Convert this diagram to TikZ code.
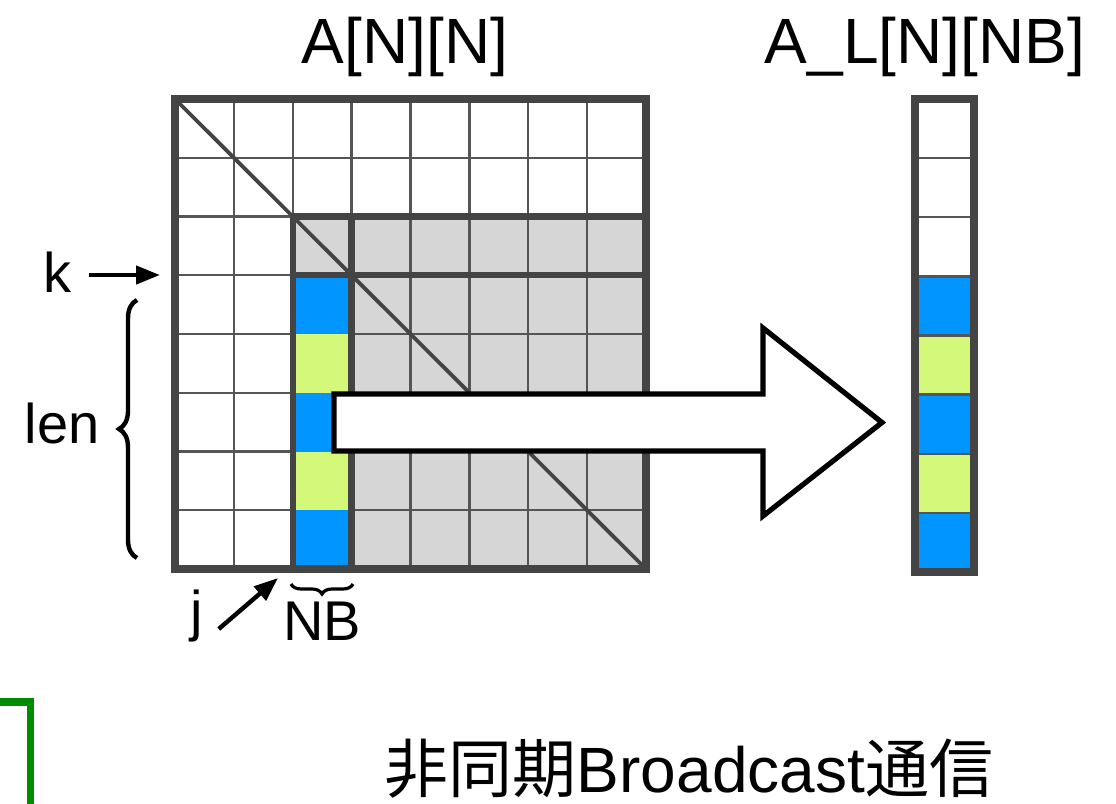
\documentclass[tikz,border=0pt]{standalone}
\usepackage{fontspec}
\setmainfont{Liberation Sans}
\newfontfamily\cjk{Noto Sans CJK JP}
\usetikzlibrary{decorations.pathreplacing,arrows.meta}
\definecolor{gridc}{HTML}{444444}
\definecolor{thinc}{HTML}{555555}
\definecolor{cblue}{HTML}{0095FF}
\definecolor{cgreen}{HTML}{D4F97A}
\definecolor{cgray}{HTML}{D6D6D6}
\definecolor{cdgreen}{HTML}{008C00}
\begin{document}
\begin{tikzpicture}[x=0.5pt,y=-0.5pt,
  thinline/.style={draw=thinc, line width=1.2pt},
  thickline/.style={draw=gridc, line width=3.2pt},
  borderline/.style={draw=gridc, line width=3.6pt},
  lbl/.style={inner sep=0pt, anchor=base, font=\fontsize{28}{32}\selectfont},
  ttl/.style={inner sep=0pt, anchor=base, font=\fontsize{32}{38}\selectfont},
  arr/.style={-{Triangle[length=12pt,width=9pt]}, line width=2.2pt, black},
  bigarrow/.style={draw=black, fill=white, line width=2.6pt, line join=miter},
  bracestyle/.style={decorate, line width=2.2pt, black},
]
\useasboundingbox (0,0) rectangle (1116,804);
\def\gx{175}\def\gy{99}\def\cw{58.875}\def\ch{58.75}
% gray sub-matrix
\fill[cgray] (\gx+2*\cw,\gy+2*\ch) rectangle (\gx+8*\cw,\gy+8*\ch);
% thin grid
\foreach \i in {1,...,7} {
  \draw[thinline] (\gx+\i*\cw,\gy) -- (\gx+\i*\cw,\gy+8*\ch);
  \draw[thinline] (\gx,\gy+\i*\ch) -- (\gx+8*\cw,\gy+\i*\ch);
}
% coloured column
\foreach \r/\c in {3/cblue,4/cgreen,5/cblue,6/cgreen,7/cblue}
  \fill[\c] (\gx+2*\cw,\gy+\r*\ch) rectangle (\gx+3*\cw,\gy+\r*\ch+\ch);
% diagonal
\draw[gridc, line width=1.9pt] (\gx,\gy) -- (\gx+8*\cw,\gy+8*\ch);
% thick lines
\draw[thickline] (\gx+2*\cw,\gy+8*\ch) -- (\gx+2*\cw,\gy+2*\ch) -- (\gx+8*\cw,\gy+2*\ch);
\draw[thickline] (\gx+3*\cw,\gy+8*\ch) -- (\gx+3*\cw,\gy+2*\ch);
\draw[thickline] (\gx+2*\cw,\gy+3*\ch) -- (\gx+8*\cw,\gy+3*\ch);
\draw[borderline] (\gx,\gy) rectangle (\gx+8*\cw,\gy+8*\ch);
% right column A_L
\def\rx{915}\def\rw{59}\def\ry{99}\def\rh{59.125}
\foreach \r/\c in {3/cblue,4/cgreen,5/cblue,6/cgreen,7/cblue}
  \fill[\c] (\rx,\ry+\r*\rh) rectangle (\rx+\rw,\ry+\r*\rh+\rh);
\foreach \i in {1,...,7}
  \draw[thinline] (\rx,\ry+\i*\rh) -- (\rx+\rw,\ry+\i*\rh);
\draw[borderline] (\rx,\ry) rectangle (\rx+\rw,\ry+8*\rh);
% big arrow
\draw[bigarrow] (334,394) -- (763,394) -- (763,328) -- (882,422.5) -- (763,516) -- (763,451) -- (334,451) -- cycle;
% titles
\node[ttl] (tA) at (405,63) {A[N][N]};
\node[ttl] (tAL) at (925,63) {A\_L[N][NB]};
% k label
\node[lbl] (k) at (57,292) {k};
\coordinate (kt) at (160,275);
\draw[arr, shorten <=9pt] (k.east |- kt) -- (kt);
% len label and brace
\node[lbl] (len) at (62,443) {len};
\coordinate (lenb) at (137,558);
\coordinate (lent) at (137,300);
\draw[bracestyle, decoration={brace, amplitude=9pt}] (lenb) -- (lent);
% j and NB
\node[lbl] (j) at (197,630) {j};
\coordinate (jt) at (278,578);
\draw[arr, shorten <=10pt] (j.south east) -- (jt);
\node[lbl] (NB) at (322,640) {NB};
\coordinate (nbr) at (353,584);
\coordinate (nbl) at (291,584);
\draw[bracestyle, line width=1.6pt, decoration={brace, amplitude=5pt}] (nbr) -- (nbl);
% green bracket
\draw[cdgreen, line width=3.6pt, line join=miter] (-5,702) -- (30.5,702) -- (30.5,815);
% bottom text
\node[inner sep=0pt, anchor=base, text depth=0pt, font=\fontsize{32}{38}\selectfont] (bc) at (689,792) {{\cjk 非同期}Broadcast{\cjk 通信}};
\end{tikzpicture}
\end{document}
